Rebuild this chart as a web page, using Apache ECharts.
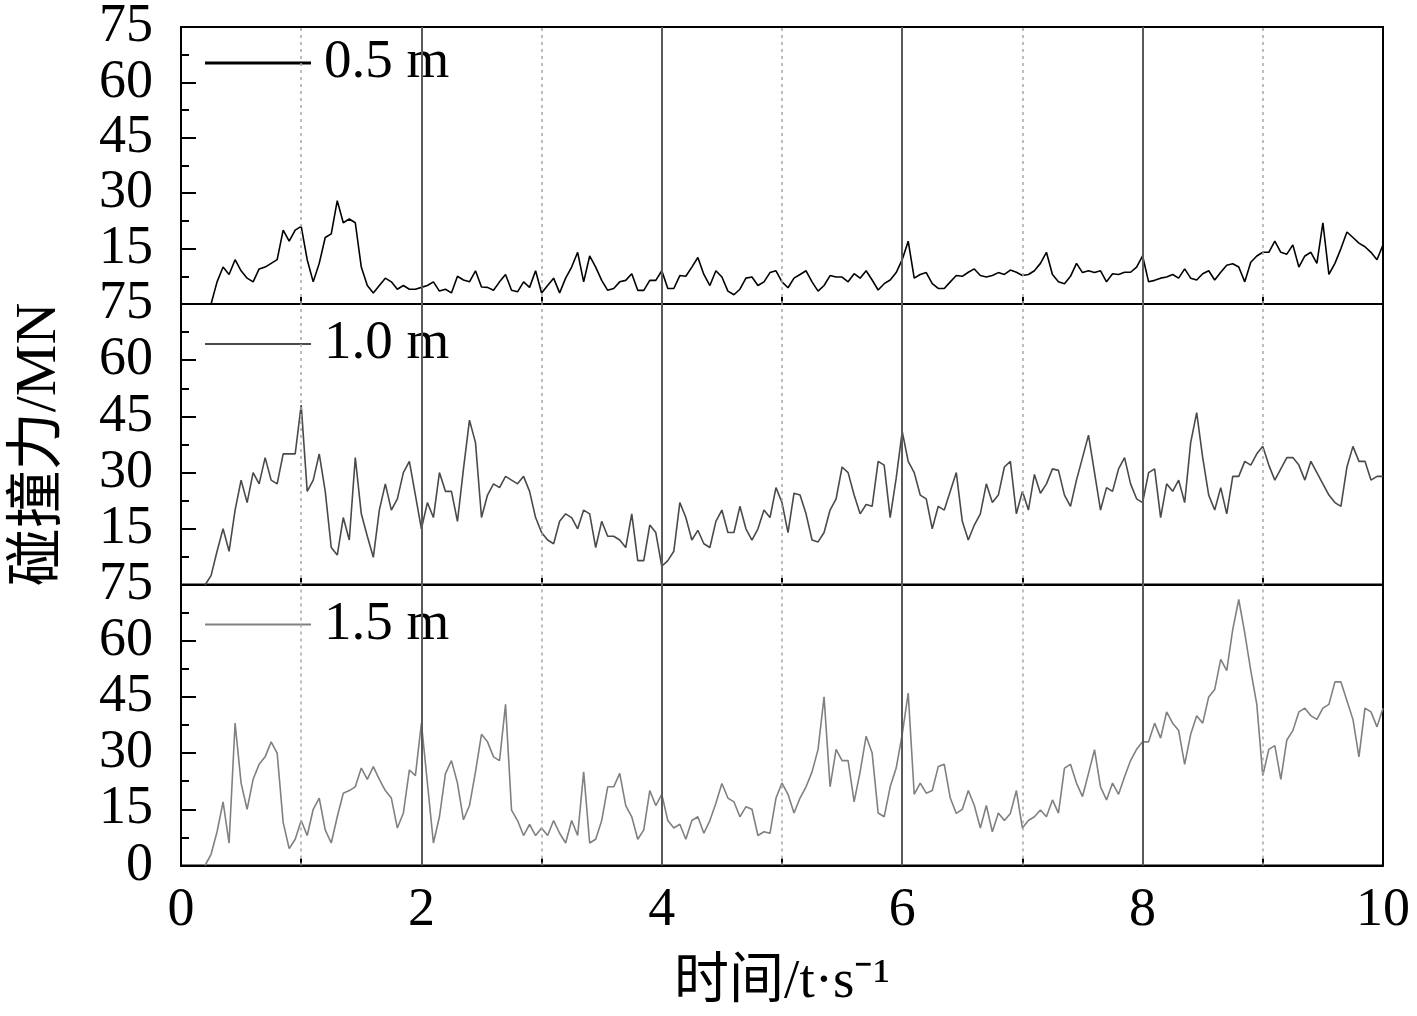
<!DOCTYPE html>
<html>
<head>
<meta charset="utf-8">
<script src="https://cdn.jsdelivr.net/npm/echarts@6/dist/echarts.min.js"></script>
<style>
html,body{margin:0;padding:0;background:#fff;}
#chart{width:1417px;height:1016px;}
</style>
</head>
<body>
<div id="chart"></div>
<script>
// sampling grid: 0 .. 10 s every 0.05 s
const time = Array.from({length: 201}, (_, i) => Math.round(i * 5) / 100);
const seriesNames = ['0.5 m', '1.0 m', '1.5 m'];
const xTicks = [0, 2, 4, 6, 8, 10];
const yTicks = [0, 15, 30, 45, 60, 75];

// collision force (MN), one value per 0.05 s
const f05 = [
 null,null,null,null,null,0,6,10,8,12, 9,7,6,9.5,10,11,12,20,17,20,
 21,12,6,11,18,19,28,22,23,22, 10,5,3,5,7,6,4,5,4,4,
 4.5,5,6,3.5,4,3,7.5,6.5,6,9, 4.6,4.5,3.7,6,8,3.7,3.3,6,4.5,9,
 3,5,7,3,7,10,14,6,13,10, 6.4,3.7,4.2,6,6.4,8.2,3.7,3.7,6.4,6.4,
 9,4.2,4.2,7.7,7.5,10,12.6,8,5,9, 7.3,3.5,2.5,4,7,7.3,5,6,8.5,9,
 6,4.4,7,8,9,6,3.5,5,7.7,7.3, 7.3,6,8.2,7,9,6.5,3.8,5.5,6.5,8.5,
 12,17,7,8,8.5,5.5,4.2,4.2,6,7.7, 7.5,8.6,9.5,7.7,7.3,7.7,8.5,8,9.2,8.6,
 7.7,8,9,11,14,8,6,5.5,7.5,11, 8.5,9,8.5,9,6,8.2,8,8.6,8.6,10,
 13,6,6.4,7,7.3,8,7,9.5,7,6.5, 8.2,9,6.5,8.6,10.5,10.9,10,6,11.3,13,
 14,14,17,14,13.5,16,10,13,14,11, 22,8,11,15,19.5,18,16.5,15.5,14,12,
 16
];
const f10 = [
 null,null,null,null,0,2.5,9,15,9,20, 28,22,30,27,34,28,27,35,35,35,
 48,25,28,35,25,10,8,18,12,34, 19,13,7.4,20,27,20,23,30,33,24,
 15,22,18,30,25,25,17,31,44,38, 18,24,27,26,29,28,27,29,25,18,
 14,12,11,17,19,18,15,20,19,10, 17,13,13,12,10,19,6.5,6.5,16,14,
 5,6.5,9,22,18,12,14.6,11,10,17, 20,14,14,21,15,12,15,20,18,26,
 22,14,24.5,24,19,12,11.5,14,20,23, 31.5,30,24,19,21.5,21,33,32,18,28.5,
 41,33,30,24,23,15,21,20,25,30, 17,12,16,19,27,22,24,31.5,33,19,
 25,20,29.5,24.5,27,31,30.6,24,21,28, 34,40,30,20,26,25,31,34,27,23,
 22,30,31,18,27,25,28,22,38,46, 34,24,20,26,19,29,29,33,32,35,
 37,32,28,31,34,34,32,28,33,30, 27,24,22,21,31.5,37,33,33,28,29,
 29
];
const f15 = [
 null,null,null,null,0,3,9,17,6,38, 22,15,23,27,29,33,30,11.5,4.5,7,
 12,8,15,18,9.5,6,13,19.3,20,21, 26,23,26.4,23,20,18,10,14,25.5,24,
 38,22,6,13,24.5,28,22,12.2,16,25, 35,33,29,28,43,14.8,12,8,11,8,
 10,8,12,8.6,6,12,8,25,6,7, 12,21,21,24.6,16,13,7,9.5,20,16,
 19,12,10,11,7,12,13,8.6,12,16.6, 21.9,18,17,13,15.7,15,8,9,8.6,18,
 22,19,14,18,21,25,31,45,21,31, 28,28,17,25,34.5,30,14,13,21,26,
 35,46,19,22,19.3,20,26.4,27,18,13.9, 15,20,16,10,16,9,14,12,13.9,20,
 10,12,13,14.8,13,17.5,14,26,27,22, 18.4,24.6,30.9,21,17.5,22,19,23.7,28,31,
 33,33,38,34,41,38,36,27,35,40, 38,45,47,55,52,63,71,62,52,43,
 24,31,32,23,33.5,36,41,42,40,39, 42,43,49,49,44,39,29,42,41,37,
 42
];
const seriesValues = [f05, f10, f15];
const lineColors = ['#000000', '#4a4a4a', '#808080'];
const legendWidths = [3, 2, 2];

const SERIF = '"Liberation Serif","Times New Roman","Noto Sans CJK SC",serif';
const panelTops = [23, 304, 584.5];
const panelH = 281;

const vLines = [];
for (let k = 1; k <= 9; k++) {
  vLines.push(k % 2 === 0
    ? {xAxis: k, lineStyle: {type: 'solid', color: '#5a5a5a', width: 2}}
    : {xAxis: k, lineStyle: {type: [3, 4], color: '#a8a8a8', width: 1.5}});
}

const grids = [], xAxes = [], yAxes = [], series = [], legends = [];
for (let p = 0; p < 3; p++) {
  grids.push({left: 181, right: 34, top: panelTops[p], height: panelH,
    show: true, borderColor: '#000', borderWidth: 2, containLabel: false});
  xAxes.push({
    type: 'value', gridIndex: p, min: 0, max: 10, interval: 1,
    axisLine: {show: true, onZero: false, lineStyle: {color: '#000', width: 2}},
    axisTick: {show: true, inside: true, length: 7, lineStyle: {color: '#000', width: 2}},
    splitLine: {show: false},
    axisLabel: {show: p === 2, margin: 18, color: '#000', fontFamily: SERIF, fontSize: 54,
      formatter: v => (xTicks.indexOf(v) >= 0 ? String(v) : '')},
    name: p === 2 ? '时间/t·s⁻¹' : '',
    nameLocation: 'middle', nameGap: 90,
    nameTextStyle: {color: '#000', fontFamily: SERIF, fontSize: 55}
  });
  yAxes.push({
    type: 'value', gridIndex: p, min: 0, max: 75, interval: 15,
    axisLine: {show: true, onZero: false, lineStyle: {color: '#000', width: 2}},
    axisTick: {show: true, inside: true, length: 15, lineStyle: {color: '#000', width: 2}},
    minorTick: {show: true, splitNumber: 2, length: 8, lineStyle: {color: '#000', width: 2}},
    splitLine: {show: false},
    axisLabel: {margin: 28, color: '#000', fontFamily: SERIF, fontSize: 54,
      formatter: v => (p < 2 && v === 0) ? '' : (yTicks.indexOf(v) >= 0 ? String(v) : '')},
    name: p === 1 ? '碰撞力/MN' : '',
    nameLocation: 'middle', nameRotate: 90, nameGap: 112,
    nameTextStyle: {color: '#000', fontFamily: SERIF, fontSize: 58}
  });
  series.push({
    name: seriesNames[p], type: 'line', xAxisIndex: p, yAxisIndex: p,
    data: time.map((t, i) => [t, seriesValues[p][i]]),
    showSymbol: false, symbol: 'none', connectNulls: false,
    lineStyle: {color: lineColors[p], width: 1.6},
    itemStyle: {color: lineColors[p]},
    markLine: {silent: true, symbol: 'none', label: {show: false}, animation: false,
      data: vLines}
  });
  legends.push({
    data: [{name: seriesNames[p], icon: 'rect'}], left: 205, top: panelTops[p] + 12, padding: 0,
    itemWidth: 106, itemHeight: legendWidths[p],
    itemStyle: {color: lineColors[p], borderWidth: 0},
    textStyle: {color: '#000', fontFamily: SERIF, fontSize: 55, lineHeight: 56, padding: [0, 0, 0, 8]},
    selectedMode: false
  });
}

const chart = echarts.init(document.getElementById('chart'), null, {renderer: 'canvas'});
chart.setOption({
  backgroundColor: '#fff',
  animation: false,
  grid: grids, xAxis: xAxes, yAxis: yAxes, series: series, legend: legends
});
</script>
</body>
</html>
